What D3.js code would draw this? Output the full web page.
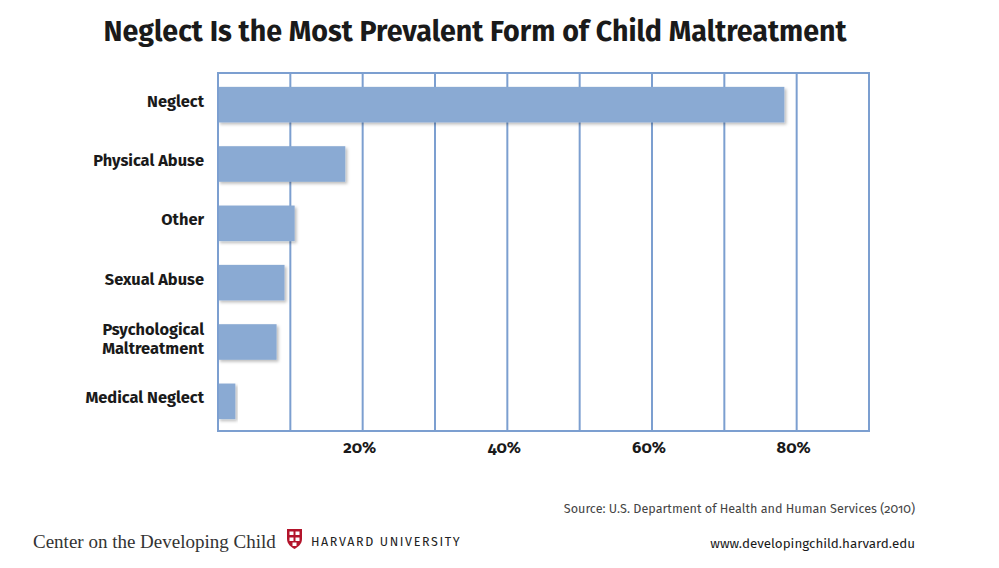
<!DOCTYPE html>
<html>
<head>
<meta charset="utf-8">
<script src="https://cdn.jsdelivr.net/npm/d3@7"></script>
<style>
  body { margin: 0; background: #fff; }
  text { font-family: "Fira Sans", "Noto Sans", "Open Sans", sans-serif; }
</style>
</head>
<body>
<svg id="chart" width="999" height="568"></svg>
<script>
// values (percent of victims)
const categories = ["Neglect", "Physical Abuse", "Other", "Sexual Abuse", "Psychological Maltreatment", "Medical Neglect"];
const labelLines = [["Neglect"], ["Physical Abuse"], ["Other"], ["Sexual Abuse"], ["Psychological", "Maltreatment"], ["Medical Neglect"]];
const values = [78.3, 17.6, 10.6, 9.2, 8.1, 2.4];
const tickValues = [20, 40, 60, 80];
const gridValues = [10, 20, 30, 40, 50, 60, 70, 80];

const svg = d3.select("#chart");
const barColor = "#8aaad3";
const gridColor = "#7c9fd0";

// drop shadow on bars
const defs = svg.append("defs");
const f = defs.append("filter").attr("id", "shadow")
  .attr("x", "-5%").attr("y", "-20%").attr("width", "115%").attr("height", "150%");
f.append("feDropShadow").attr("dx", 2).attr("dy", 2)
  .attr("stdDeviation", 1.5).attr("flood-color", "#000").attr("flood-opacity", 0.25);

const x = d3.scaleLinear().domain([0, 90]).range([218, 869]);
const y = d3.scaleBand().domain(categories).range([75, 431])
  .paddingInner(0.4).paddingOuter(0.2);

// title
svg.append("text")
  .attr("x", 475).attr("y", 41)
  .attr("text-anchor", "middle")
  .attr("font-size", 28.6).attr("font-weight", "bold")
  .attr("fill", "#1a1a1a")
  .text("Neglect Is the Most Prevalent Form of Child Maltreatment");

// gridlines
svg.append("g").selectAll("line")
  .data(gridValues)
  .join("line")
  .attr("x1", d => x(d)).attr("x2", d => x(d))
  .attr("y1", 73).attr("y2", 431)
  .attr("stroke", gridColor).attr("stroke-width", 2);

// bars
svg.append("g").selectAll("rect")
  .data(values)
  .join("rect")
  .attr("x", x(0))
  .attr("y", (d, i) => y(categories[i]))
  .attr("width", d => x(d) - x(0))
  .attr("height", y.bandwidth())
  .attr("fill", barColor)
  .attr("filter", "url(#shadow)");

// frame
svg.append("rect")
  .attr("x", 218).attr("y", 73)
  .attr("width", 869 - 218).attr("height", 431 - 73)
  .attr("fill", "none").attr("stroke", gridColor).attr("stroke-width", 2);

// category labels
const lab = svg.append("g").selectAll("text")
  .data(labelLines)
  .join("text")
  .attr("text-anchor", "end")
  .attr("font-size", 16.4).attr("font-weight", "bold")
  .attr("fill", "#1a1a1a")
  .attr("transform", (d, i) => `translate(204,${y(categories[i]) + y.bandwidth() / 2 - 3})`);
lab.selectAll("tspan")
  .data(d => d.map((t, j) => ({ t, j, n: d.length })))
  .join("tspan")
  .attr("x", 0)
  .attr("y", d => (d.j - (d.n - 1) / 2) * 19 + 5)
  .text(d => d.t);

// x tick labels
svg.append("g").selectAll("text")
  .data(tickValues)
  .join("text")
  .attr("x", d => x(d) - 3)
  .attr("y", 453)
  .attr("text-anchor", "middle")
  .attr("font-size", 16.5).attr("font-weight", "bold")
  .attr("fill", "#1a1a1a")
  .style("font-variant-numeric", "oldstyle-nums")
  .text(d => d + "%");

// source
svg.append("text")
  .attr("x", 915).attr("y", 513)
  .attr("text-anchor", "end")
  .attr("font-size", 12.6).attr("fill", "#444")
  .style("font-variant-numeric", "oldstyle-nums")
  .text("Source: U.S. Department of Health and Human Services (2010)");

svg.append("text")
  .attr("x", 915).attr("y", 548)
  .attr("text-anchor", "end")
  .attr("font-size", 13.4).attr("fill", "#1a1a1a")
  .text("www.developingchild.harvard.edu");

// footer logo
svg.append("text")
  .attr("x", 33).attr("y", 548)
  .attr("font-size", 19).attr("fill", "#333")
  .style("font-family", "'Liberation Serif', 'DejaVu Serif', serif")
  .text("Center on the Developing Child");

const shield = svg.append("g").attr("transform", "translate(287,529)");
shield.append("path")
  .attr("d", "M0,0 H15 V10 C15,15 11,18 7.5,20 C4,18 0,15 0,10 Z")
  .attr("fill", "#b3142b");
[[2.5, 2.5], [8.5, 2.5], [2.5, 8.5], [8.5, 8.5], [5.5, 13.5]].forEach(p => {
  shield.append("rect").attr("x", p[0]).attr("y", p[1])
    .attr("width", 4).attr("height", 3.5).attr("fill", "#fff");
});

svg.append("text")
  .attr("x", 311).attr("y", 546)
  .attr("font-size", 12.5).attr("fill", "#222")
  .attr("letter-spacing", 1.6)
  .text("HARVARD UNIVERSITY");
</script>
</body>
</html>
